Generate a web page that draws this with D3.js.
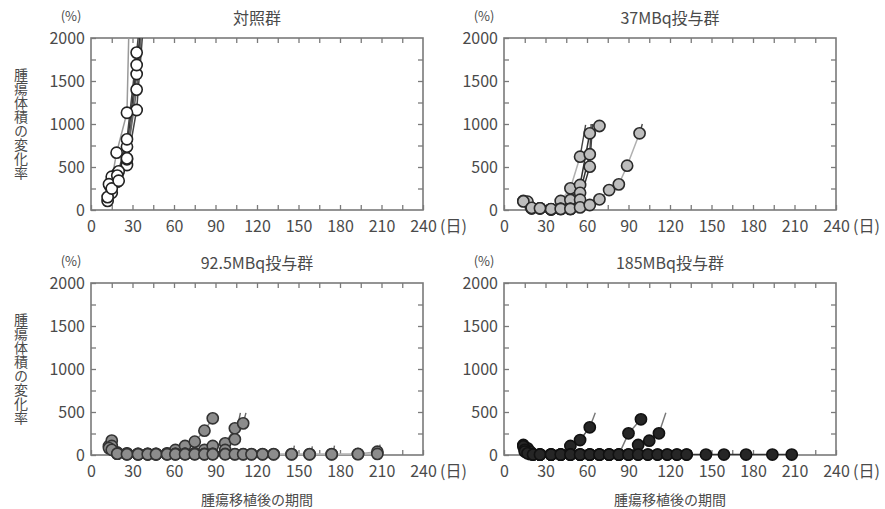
<!DOCTYPE html>
<html><head><meta charset="utf-8">
<script src="https://cdn.jsdelivr.net/npm/d3@7"></script>
<style>
html,body{margin:0;padding:0;background:#fff;}
svg{display:block;}
</style></head>
<body>
<svg id="chart" width="885" height="509"></svg>
<script>
// ---------- data ----------
const titles = ["対照群", "37MBq投与群", "92.5MBq投与群", "185MBq投与群"];
const xTicks = [0, 30, 60, 90, 120, 150, 180, 210, 240];
const yTicks = [0, 500, 1000, 1500, 2000];
const yLabel = "腫瘍体積の変化率";
const xLabel = "腫瘍移植後の期間";
const yUnit = "(%)";
const xUnit = "(日)";

// each mouse: [day, % change]
const controlSeries = [
  [[12,105],[15,200],[19,330],[26,523],[33,1163],[40,2600]],
  [[14,270],[19,425],[26,589],[33,1581],[39,2500]],
  [[15,350],[18.5,666],[26,1131],[33,6000]],
  [[15,387],[20,450],[26,736],[33,1686],[38,2400]],
  [[13,300],[19,400],[26,822],[33,1830],[36,2300]],
  [[12,150],[15,250],[20,340],[26,600],[33,1400],[40,2700]]
];
const controlTails = [];

const mbq37Series = [
  [[14,105],[20,20],[26,20],[34,8],[41,105],[48,252],[55,620]],
  [[17,97],[26,20],[34,8],[41,12],[48,116],[55,291],[62,892],[69,977]],
  [[14,100],[20,20],[34,8],[41,12],[48,12],[55,200],[62,648]],
  [[20,25],[34,10],[48,12],[55,120],[62,504]],
  [[26,20],[41,12],[48,12],[55,30],[62,58],[69,124],[76,232],[83,298],[89,515],[98,892]]
];
const mbq37Tails = [
  [[55,620],[59,990]],
  [[62,648],[63,1000]],
  [[62,504],[64,1000]],
  [[98,892],[100,1000]]
];

const mbq925Series = [
  [[13,105],[15,167],[19,27],[26,20],[34,12],[41,12],[47,12],[55,20],[61,58],[68,105],[75,155],[82,283],[88,427]],
  [[15,105],[19,27],[26,12],[34,12],[41,12],[47,12],[55,12],[61,12],[68,12],[75,20],[82,58],[88,105],[97,136],[104,310],[110,368]],
  [[13,80],[19,20],[26,12],[34,10],[41,10],[47,10],[55,12],[61,12],[68,12],[75,12],[82,12],[88,12],[97,58],[104,182]],
  [[15,60],[19,15],[26,10],[34,8],[41,8],[47,8],[55,10],[61,10],[68,12],[75,12],[82,10],[88,12],[97,12],[104,10],[110,10],[116,10],[124,10],[132,10],[145,10],[158,10],[174,10],[193,12],[207,38]],
  [[19,15],[26,8],[34,8],[41,8],[47,8],[55,8],[61,8],[68,8],[75,8],[82,8],[88,8],[97,8],[104,8],[110,8],[116,8],[124,8],[132,8],[145,8],[158,8],[174,8],[193,10],[207,12]]
];
const mbq925Tails = [
  [[110,368],[112,490]],
  [[104,182],[108,490]],
  [[146,15],[147,110]],
  [[159,15],[160,100]],
  [[175,15],[176,110]],
  [[208,40],[209,120]]
];

const mbq185Series = [
  [[14,116],[17,78],[21,10],[26,5],[34,5],[41,5],[48,105],[55,174],[62,322]],
  [[14,100],[19,38],[26,5],[34,5],[41,5],[48,5],[55,5],[62,5],[69,5],[76,5],[83,5],[90,252],[99,415]],
  [[15,60],[21,5],[26,5],[34,5],[41,5],[48,5],[55,5],[62,5],[69,5],[76,5],[83,5],[90,5],[97,116],[105,166],[112,252]],
  [[15,40],[19,10],[26,5],[34,5],[41,5],[48,5],[55,5],[62,5],[69,5],[76,5],[83,5],[90,5],[97,5],[104,5],[111,5],[118,5],[125,5],[132,5],[146,5],[159,5],[175,5],[194,5],[208,5]],
  [[17,20],[21,5],[26,5],[34,5],[41,5],[48,5],[55,5],[62,5],[69,5],[76,5],[83,5],[90,5],[97,5],[104,5],[111,5],[118,5],[125,5],[132,5]]
];
const mbq185Tails = [
  [[62,322],[66,492]],
  [[112,252],[117,492]]
];

// ---------- styles ----------
const lineColors = [
  ["#444","#555","#9a9a9a","#333","#444","#666"],
  ["#b0b0b0","#333","#333","#333","#b0b0b0"],
  ["#8a8a8a","#777","#777","#aaa","#b5b5b5"],
  ["#555","#777","#444","#333","#333"]
];
const tailColors = ["#444", "#444", "#666", "#777"];
const markerFill = ["#ffffff", "#bdbdbd", "#8c8c8c", "#262626"];
const markerStroke = ["#222", "#2a2a2a", "#333", "#111"];

const groups = [
  {series: controlSeries, tails: controlTails},
  {series: mbq37Series, tails: mbq37Tails},
  {series: mbq925Series, tails: mbq925Tails},
  {series: mbq185Series, tails: mbq185Tails}
];

// ---------- layout ----------
const panelPos = [[91,38],[504,38],[91,283],[504,283]];
const PW = 332, PH = 172;
const FONT = "'Noto Sans CJK JP','Noto Sans',sans-serif";
const TXT = "#4a4a4a", FRAME = "#7a7a7a";

const svg = d3.select("#chart");
const x = d3.scaleLinear().domain([0,240]).range([0,PW]);
const y = d3.scaleLinear().domain([0,2000]).range([PH,0]);
const line = d3.line().x(d => x(d[0])).y(d => y(d[1]));

groups.forEach((g, i) => {
  const [px, py] = panelPos[i];
  const p = svg.append("g").attr("transform", `translate(${px},${py})`);

  svg.append("clipPath").attr("id", "clip" + i)
    .append("rect").attr("x", 0).attr("y", 0).attr("width", PW).attr("height", PH);

  // axes with inward ticks on four sides
  const styleAxis = sel => {
    sel.select(".domain").remove();
    sel.selectAll(".tick line").attr("stroke", FRAME).attr("stroke-width", 1.3);
    sel.selectAll("text").attr("fill", TXT).style("font-family", FONT).style("font-size", "16px");
  };
  p.append("g").attr("transform", `translate(0,${PH})`)
    .call(d3.axisBottom(x).tickValues(d3.range(0,241,15)).tickSize(-5).tickSizeOuter(0)
      .tickPadding(10.5).tickFormat(d => xTicks.includes(d) ? d : ""))
    .call(styleAxis);
  p.append("g")
    .call(d3.axisTop(x).tickValues(d3.range(15,240,15)).tickSize(-5).tickSizeOuter(0).tickFormat(""))
    .call(styleAxis);
  p.append("g")
    .call(d3.axisLeft(y).tickValues(d3.range(0,2001,250)).tickSize(-5).tickSizeOuter(0)
      .tickPadding(6).tickFormat(d => yTicks.includes(d) ? d : ""))
    .call(styleAxis);
  p.append("g").attr("transform", `translate(${PW},0)`)
    .call(d3.axisRight(y).tickValues(d3.range(250,2000,250)).tickSize(-5).tickSizeOuter(0).tickFormat(""))
    .call(styleAxis);

  p.append("rect").attr("width", PW).attr("height", PH)
    .attr("fill", "none").attr("stroke", FRAME).attr("stroke-width", 1.6);

  // titles and units
  p.append("text").attr("x", PW/2).attr("y", -14).attr("text-anchor", "middle")
    .attr("fill", TXT).style("font-family", FONT).style("font-size", "16px").text(titles[i]);
  p.append("text").attr("x", -20).attr("y", -17).attr("text-anchor", "middle")
    .attr("fill", TXT).style("font-family", FONT).style("font-size", "13px").text(yUnit);
  p.append("text").attr("x", PW + 17).attr("y", PH + 22)
    .attr("fill", TXT).style("font-family", FONT).style("font-size", "16px").text(xUnit);

  if (i % 2 === 0) {
    p.append("text").attr("x", -70).attr("y", PH/2)
      .attr("text-anchor", "middle").attr("dominant-baseline", "central")
      .style("writing-mode", "vertical-rl").attr("fill", TXT)
      .style("font-family", FONT).style("font-size", "14px").text(yLabel);
  }
  if (i >= 2) {
    p.append("text").attr("x", PW/2).attr("y", PH + 50).attr("text-anchor", "middle")
      .attr("fill", TXT).style("font-family", FONT).style("font-size", "14px").text(xLabel);
  }

  // data lines
  const plot = p.append("g").attr("clip-path", `url(#clip${i})`);
  plot.selectAll("path.tail").data(g.tails).join("path").attr("class", "tail")
    .attr("d", line).attr("fill", "none").attr("stroke", tailColors[i]).attr("stroke-width", 1.4);
  plot.selectAll("path.s").data(g.series).join("path").attr("class", "s")
    .attr("d", line).attr("fill", "none")
    .attr("stroke", (d, k) => lineColors[i][k]).attr("stroke-width", 1.5);

  // markers
  const pts = g.series.flat().filter(d => d[1] <= 2000);
  p.append("g").selectAll("circle").data(pts).join("circle")
    .attr("cx", d => x(d[0])).attr("cy", d => y(d[1])).attr("r", 5.6)
    .attr("fill", markerFill[i]).attr("stroke", markerStroke[i]).attr("stroke-width", 1.6);
});
</script>
</body></html>
